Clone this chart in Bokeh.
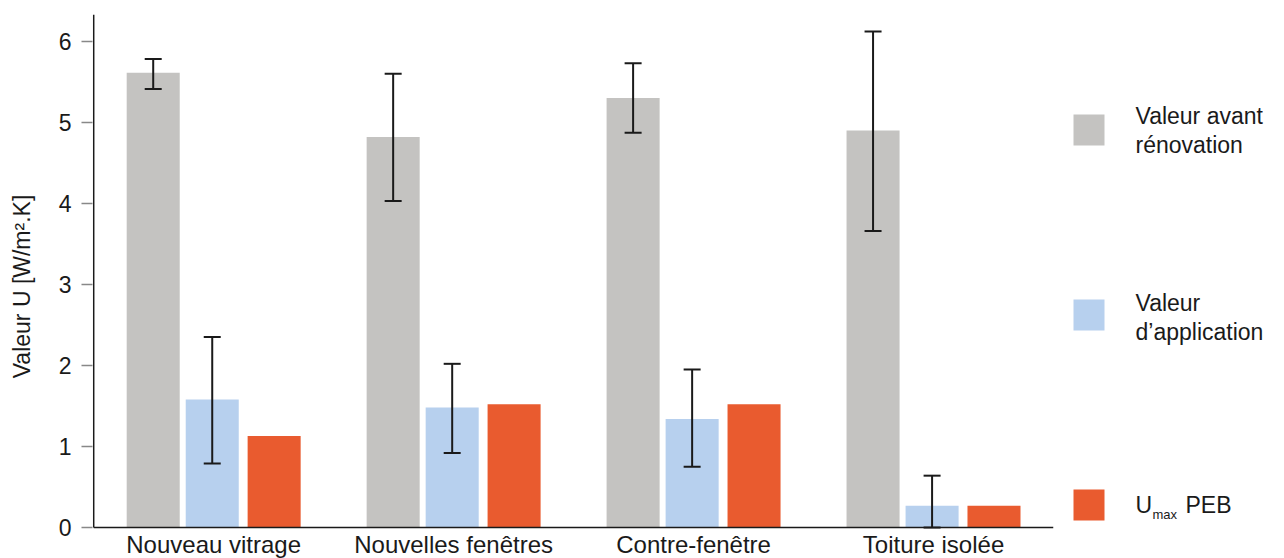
from bokeh.plotting import figure
from bokeh.models import ColumnDataSource, Range1d, FixedTicker, Whisker, TeeHead
from bokeh.layouts import row
from bokeh.embed import file_html
from bokeh.resources import INLINE
from bokeh.core.properties import value

# ---- data ----
categories = ["Nouveau vitrage", "Nouvelles fenêtres", "Contre-fenêtre", "Toiture isolée"]
avant = [5.61, 4.82, 5.30, 4.90]
avant_lo = [5.41, 4.03, 4.87, 3.66]
avant_hi = [5.78, 5.60, 5.73, 6.12]
application = [1.58, 1.48, 1.34, 0.27]
application_lo = [0.79, 0.92, 0.75, 0.00]
application_hi = [2.35, 2.02, 1.95, 0.64]
umax = [1.13, 1.52, 1.52, 0.27]
series_labels = [["Valeur avant", "rénovation"], ["Valeur", "d\u2019application"], ["U", "max", "PEB"]]
y_ticks = [0, 1, 2, 3, 4, 5, 6]

GREY = "#C4C3C1"
BLUE = "#B7D0EE"
ORANGE = "#E95B2F"
INK = "#1a1a1a"
FONT = "Liberation Sans"

centers = [i + 0.5 for i in range(len(categories))]
offset = 0.252
bw = 0.221
Y_TOP = 6.33
Y_BOTTOM = -0.382   # room under the baseline for the category labels
X_MAX = 4

src_a = ColumnDataSource(dict(x=[c - offset for c in centers], top=avant, lo=avant_lo, hi=avant_hi))
src_b = ColumnDataSource(dict(x=[c - 0.006 for c in centers], top=application, lo=application_lo, hi=application_hi))
src_c = ColumnDataSource(dict(x=[c + offset for c in centers], top=umax))

TOP = 14

p = figure(width=1068, height=558, x_range=Range1d(-0.005, X_MAX), y_range=Range1d(Y_BOTTOM, Y_TOP),
           output_backend="svg", toolbar_location=None,
           min_border_left=92, min_border_right=15, min_border_top=TOP, min_border_bottom=0)
p.outline_line_color = None
p.grid.visible = False
p.background_fill_color = "white"
p.border_fill_color = "white"
p.xaxis.visible = False

p.vbar(x="x", top="top", width=bw, bottom=0, source=src_a, color=GREY, line_color=None)
p.vbar(x="x", top="top", width=bw, bottom=0, source=src_b, color=BLUE, line_color=None)
p.vbar(x="x", top="top", width=bw, bottom=0, source=src_c, color=ORANGE, line_color=None)

# axis lines (x baseline and y line)
p.segment(x0=[0, 0], y0=[0, 0], x1=[X_MAX, 0], y1=[0, Y_TOP], line_color=INK, line_width=1.5)

for s in (src_a, src_b):
    w = Whisker(source=s, base="x", upper="hi", lower="lo", line_color=INK, line_width=2,
                level="overlay",
                upper_head=TeeHead(size=17, line_color=INK, line_width=2),
                lower_head=TeeHead(size=17, line_color=INK, line_width=2))
    p.add_layout(w)

# y axis (ticks and labels only)
ya = p.yaxis[0]
ya.ticker = FixedTicker(ticks=y_ticks)
ya.axis_line_color = None
ya.major_tick_line_color = "#888888"
ya.major_tick_line_width = 1.5
ya.major_tick_out = 11
ya.major_tick_in = 0
ya.minor_tick_line_color = None
ya.major_label_standoff = 10
ya.major_label_text_font = FONT
ya.major_label_text_font_size = "23px"
ya.major_label_text_color = INK
ya.axis_label = "Valeur U [W/m\u00b2.K]"
ya.axis_label_text_font = FONT
ya.axis_label_text_font_size = "23px"
ya.axis_label_text_font_style = "normal"
ya.axis_label_text_color = INK
ya.axis_label_standoff = 21

# category labels under the baseline
p.text(x=centers, y=[-0.215] * len(centers), text=categories, text_align="center",
       text_baseline="alphabetic", text_font=value(FONT), text_font_size="24px", text_color=INK)

# ---- legend figure (frame aligned with main frame: page y 14..558) ----
leg = figure(width=216, height=558, x_range=Range1d(0, 216), y_range=Range1d(558, TOP),
             output_backend="svg", toolbar_location=None,
             min_border_left=0, min_border_right=0, min_border_top=TOP, min_border_bottom=0)
leg.axis.visible = False
leg.grid.visible = False
leg.outline_line_color = None
leg.border_fill_color = "white"

sq_centers = [129.5, 314.5, 504.5]
leg.rect(x=[20.5] * 3, y=sq_centers, width=31, height=31, color=[GREY, BLUE, ORANGE], line_color=None)

tf = value(FONT)
leg.text(x=[67, 67], y=[115, 144], text=series_labels[0], text_font=tf, text_font_size="23px",
         text_color=INK, text_baseline="alphabetic")
leg.text(x=[67, 67], y=[302, 331], text=series_labels[1], text_font=tf, text_font_size="23px",
         text_color=INK, text_baseline="alphabetic")
leg.text(x=[67], y=[504], text=[series_labels[2][0]], text_font=tf, text_font_size="23px",
         text_color=INK, text_baseline="alphabetic")
leg.text(x=[84], y=[514], text=[series_labels[2][1]], text_font=tf, text_font_size="13px",
         text_color=INK, text_baseline="alphabetic")
leg.text(x=[117], y=[504], text=[series_labels[2][2]], text_font=tf, text_font_size="23px",
         text_color=INK, text_baseline="alphabetic")

layout = row(p, leg)
open("out.html", "w").write(file_html(layout, INLINE))
